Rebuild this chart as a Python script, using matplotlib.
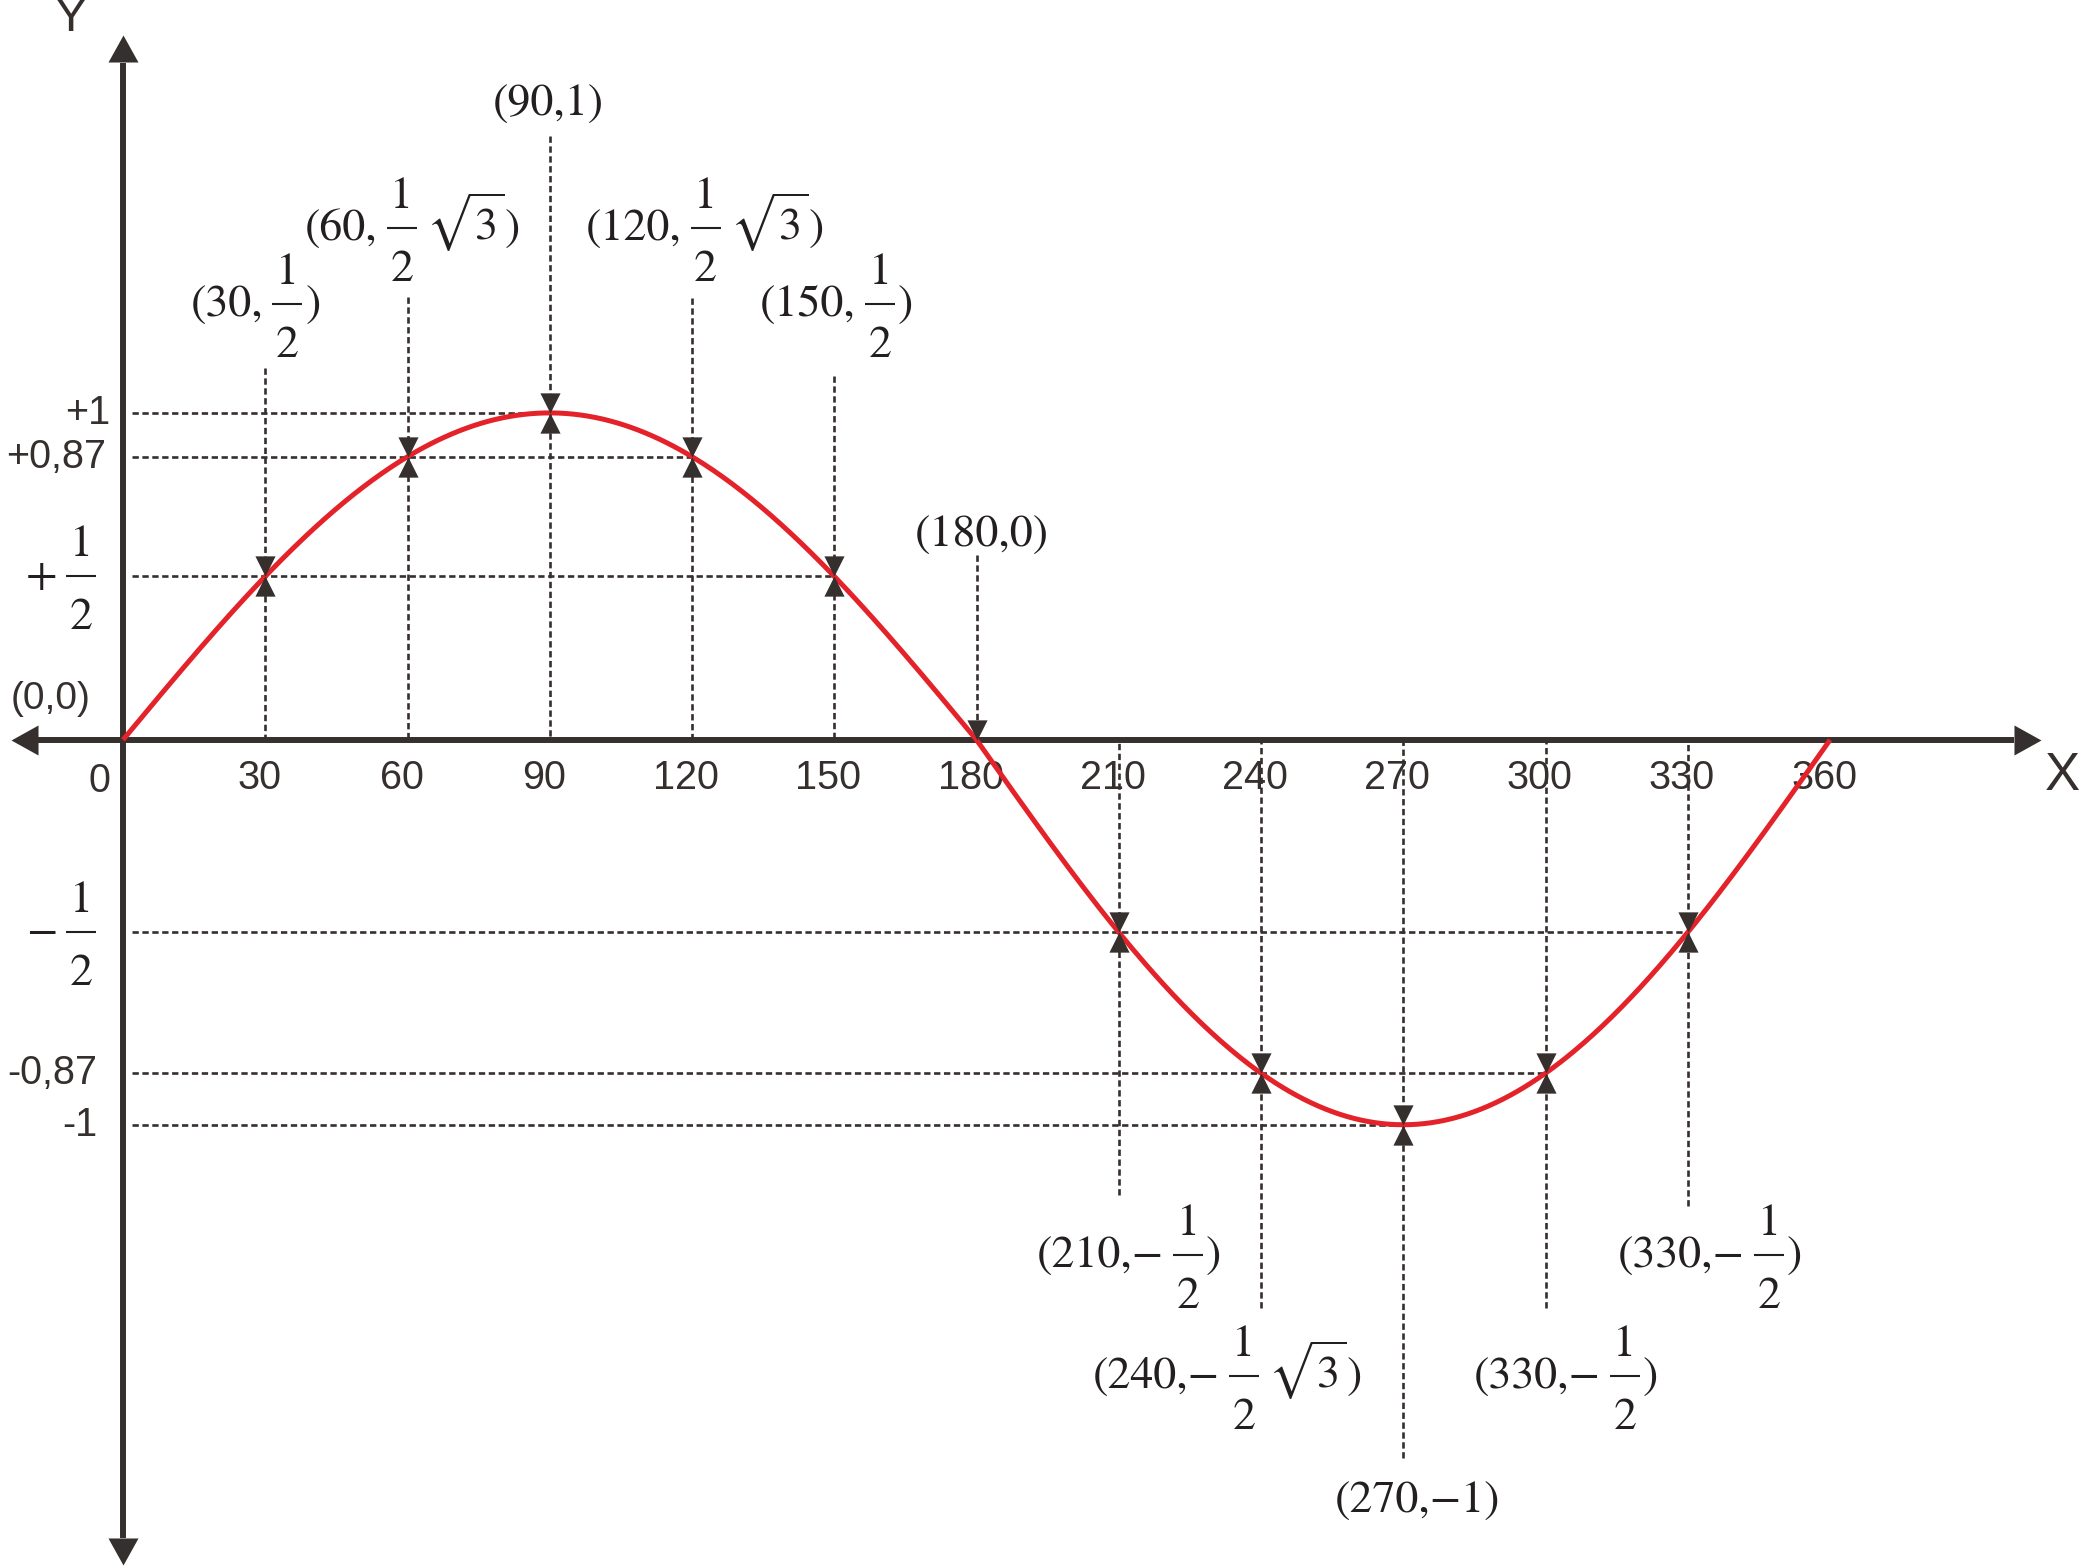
import numpy as np
import matplotlib
matplotlib.use("Agg")
import matplotlib.pyplot as plt
from matplotlib.path import Path
import matplotlib.transforms as mtransforms

plt.rcParams['mathtext.fontset'] = 'stix'

# ---------------- data ----------------
x_ticks = [0, 30, 60, 90, 120, 150, 180, 210, 240, 270, 300, 330, 360]
x_tick_labels = ['0', '30', '60', '90', '120', '150', '180', '210', '240',
                 '270', '300', '330', '360']

point_x = [30, 60, 90, 120, 150, 180, 210, 240, 270, 300, 330]
point_y = [0.5, 0.866, 1.0, 0.866, 0.5, 0.0, -0.5, -0.866, -1.0, -0.866, -0.5]
point_labels = ['(30,1/2)', '(60,1/2√3)', '(90,1)', '(120,1/2√3)', '(150,1/2)',
                '(180,0)', '(210,\u22121/2)', '(240,\u22121/2√3)', '(270,\u22121)',
                '(330,\u22121/2)', '(330,\u22121/2)']

y_tick_values = [1.0, 0.866, 0.5, -0.5, -0.866, -1.0]
y_tick_labels = ['+1', '+0,87', '+1/2', '\u22121/2', '-0,87', '-1']

# ---------------- layout (not data) ----------------
leader_end = [1.138, 1.356, 1.846, 1.350, 1.114, 0.564,
              -1.182, -1.475, -1.865, -1.475, -1.210]
label_dx = [-2.02, 1.05, -0.32, 2.72, 0.53, 1.16, 2.21, -7.06, 3.06, 4.32, 4.75]
label_base = [1.297, 1.529, 1.910, 1.529, 1.297, 0.594,
              -1.369, -1.683, -2.005, -1.683, -1.369]
ytick_label_x = [-2.74, -3.59, -5.06, -5.06, -5.48, -5.48]

NEG = 385.0 / 327.0
AXC = '#352f2e'
TXC = '#231f20'
RED = '#e4222a'
SERIF = 'STIXGeneral'
SANS = ['Liberation Sans', 'DejaVu Sans']
FS = 33


def fwd(y):
    y = np.asarray(y, dtype=float)
    return np.where(y < 0, y * NEG, y)


def inv(t):
    t = np.asarray(t, dtype=float)
    return np.where(t < 0, t / NEG, t)


fig = plt.figure(figsize=(20.79, 15.67), dpi=100)
ax = fig.add_axes([0, 0, 1, 1])
ax.set_axis_off()
ax.set_yscale('function', functions=(fwd, inv))
ax.set_xlim(-25.94, 412.5)
ax.set_ylim(-2.149, 2.263)

# dashed guide lines
dash = dict(color=AXC, lw=1.9, ls=(0, (2.4, 1.35)), zorder=1)
levels = sorted(set(point_y) - {0.0})
for lv in levels:
    xmax = max(px for px, py in zip(point_x, point_y) if py == lv)
    ax.plot([2.0, xmax], [lv, lv], **dash)
for px, le in zip(point_x, leader_end):
    ax.plot([px, px], [le, 0], **dash)

# axes lines with arrow heads
ytr = ax.get_yaxis_transform()   # x: axes fraction, y: data
xtr = ax.get_xaxis_transform()   # x: data, y: axes fraction
ax.plot([0.0183, 0.9687], [0, 0], color=AXC, lw=4.3, transform=ytr,
        solid_capstyle='butt', zorder=2)
ax.plot([0, 0], [0.0185, 0.9601], color=AXC, lw=4.3, transform=xtr,
        solid_capstyle='butt', zorder=2)


def head(angle):
    v = np.array([(0, 0), (-1, 0.5556), (-1, -0.5556), (0, 0)])
    a = np.radians(angle)
    r = np.array([[np.cos(a), -np.sin(a)], [np.sin(a), np.cos(a)]])
    return Path(v @ r.T, [Path.MOVETO, Path.LINETO, Path.LINETO, Path.CLOSEPOLY])


ax.plot([0.9817], [0], marker=head(0), ms=38.9, mew=0, color=AXC, transform=ytr, zorder=2)
ax.plot([0.0053], [0], marker=head(180), ms=38.9, mew=0, color=AXC, transform=ytr, zorder=2)
ax.plot([0], [0.9778], marker=head(90), ms=38.9, mew=0, color=AXC, transform=xtr, zorder=2)
ax.plot([0], [0.0013], marker=head(270), ms=38.9, mew=0, color=AXC, transform=xtr, zorder=2)

# sine curve
xc = np.linspace(0, 360, 721)
yc = np.sin(np.radians(xc))
ax.plot(xc, yc, color=RED, lw=3.6, zorder=4, solid_capstyle='butt')

# markers
C = [Path.MOVETO, Path.LINETO, Path.LINETO, Path.CLOSEPOLY]
bowtie = Path([(-0.5, 1), (0.5, 1), (0, 0), (-0.5, 1),
               (-0.5, -1), (0.5, -1), (0, 0), (-0.5, -1)], C + C)
toptri = Path([(-0.5, 1), (0.5, 1), (0, 0), (-0.5, 1)], C)
for px, py in zip(point_x, point_y):
    m = toptri if py == 0 else bowtie
    ax.plot([px], [py], marker=m, ms=29, mew=0, color=AXC, ls='none', zorder=5)

# ---------- composed serif labels with stacked fractions ----------
renderer = fig.canvas.get_renderer()
IDT = mtransforms.IdentityTransform()
BAR_H = 11.5      # fraction bar height above baseline (px)
NUM_B = 20.0      # gap bar -> numerator baseline
DEN_T = 22.0      # gap bar -> denominator top
DIG_H = 31.0      # digit height
FRAC_W = 30.0
GAP_L = 9.0
GAP_R = 3.0


def parse(s):
    if '1/2' not in s:
        return [('t', s)]
    pre, post = s.split('1/2')
    parts = []
    if pre:
        parts.append(('t', pre))
    parts.append(('f', '1', '2'))
    if post.startswith('√3'):
        parts.append(('g', 6.0))
        parts.append(('m', r'$\sqrt{3}$'))
        post = post[2:]
    if post:
        parts.append(('t', post))
    return parts


def compose(s, x_anchor, base_y, align='center'):
    artists = []
    x = 0.0
    for p in parse(s):
        if p[0] in ('t', 'm'):
            kw = dict(family=SERIF) if p[0] == 't' else {}
            t = ax.text(0, 0, p[1], fontsize=FS, color=TXC, ha='left',
                        va='baseline', transform=IDT, zorder=6, **kw)
            w = t.get_window_extent(renderer=renderer).width
            artists.append((t, x, 0.0))
            x += w
        elif p[0] == 'g':
            x += p[1]
        else:
            x += GAP_L
            n = ax.text(0, 0, p[1], fontsize=FS, family=SERIF, color=TXC,
                        ha='center', va='baseline', transform=IDT, zorder=6)
            d = ax.text(0, 0, p[2], fontsize=FS, family=SERIF, color=TXC,
                        ha='center', va='baseline', transform=IDT, zorder=6)
            bar, = ax.plot([0, 0], [0, 0], color=TXC, lw=1.5, transform=IDT,
                           solid_capstyle='butt', zorder=6)
            artists.append((n, x + FRAC_W / 2, BAR_H + NUM_B))
            artists.append((d, x + FRAC_W / 2, BAR_H - DEN_T - DIG_H))
            artists.append((bar, x, BAR_H))
            x += FRAC_W + GAP_R
    total = x
    ox, oy = ax.transData.transform((x_anchor, base_y))
    if align == 'center':
        ox -= total / 2
    else:
        ox -= total
    for a, dx, dy in artists:
        if isinstance(a, matplotlib.lines.Line2D):
            a.set_data([ox + dx, ox + dx + FRAC_W], [oy + dy, oy + dy])
        else:
            a.set_position((ox + dx, oy + dy))


for px, dx, b, lab in zip(point_x, label_dx, label_base, point_labels):
    compose(lab, px + dx, b, 'center')

# x tick labels
tick_off = mtransforms.offset_copy(ax.transData, fig=fig, x=-6, y=0, units='dots')
for xt, tl in zip(x_ticks, x_tick_labels):
    if xt == 0:
        ax.text(-5.06, -0.108, tl, fontsize=28.5, family=SANS, color=AXC,
                ha='center', va='center', zorder=3)
    else:
        ax.text(xt, -0.0987, tl, fontsize=28.5, family=SANS, color=AXC,
                ha='center', va='center', transform=tick_off, zorder=3)

# y tick labels
for yv, yl, yx in zip(y_tick_values, y_tick_labels, ytick_label_x):
    if '1/2' in yl:
        bx, by = ax.transData.transform((yx, yv))
        base = ax.transData.inverted().transform((bx, by - BAR_H))[1]
        compose(yl, yx, base, 'right')
    else:
        ax.text(yx, yv, yl, fontsize=28.5, family=SANS, color=AXC,
                ha='right', va='center', zorder=3)

ax.text(-15.27, 0.125, '(0,0)', fontsize=28, family=SANS, color=AXC,
        ha='center', va='center', zorder=3)
ax.text(-10.97, 2.205, 'Y', fontsize=35, family=SANS, color=AXC,
        ha='center', va='center', zorder=3)
ax.text(408.9, -0.0935, 'X', fontsize=38, family=SANS, color=AXC,
        ha='center', va='center', zorder=3)

fig.savefig('out.png', dpi=100)
